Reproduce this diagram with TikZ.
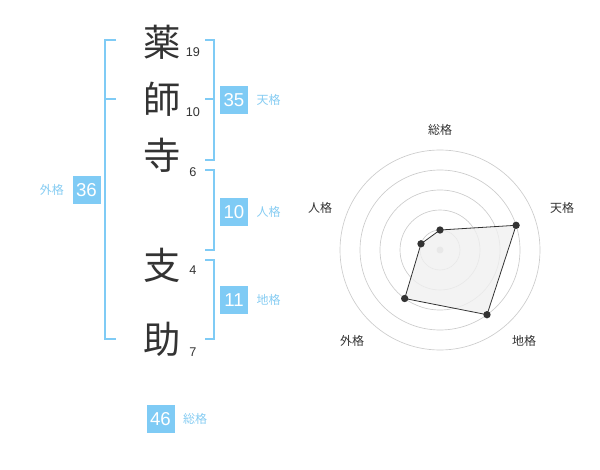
\documentclass[tikz,border=0pt]{standalone}
\usepackage{fontspec}
\usetikzlibrary{positioning}
\setmainfont{Liberation Sans}
\newfontfamily\cjk{Noto Sans CJK JP}
\definecolor{sky}{HTML}{7FCBF5}
\definecolor{skytext}{HTML}{86CCF2}
\definecolor{ink}{HTML}{333333}
\definecolor{ring}{HTML}{CCCCCC}
\definecolor{area}{HTML}{F0F0F0}
\begin{document}
\begin{tikzpicture}[x=0.75pt,y=-0.75pt,
  kanji/.style={font=\cjk\fontsize{28}{28}\selectfont, text=ink, inner sep=0},
  strokenum/.style={font=\fontsize{9.5}{10}\selectfont, text=ink, inner sep=0},
  numbox/.style={fill=sky, text=white, font=\fontsize{14}{14}\selectfont, minimum width=21pt, minimum height=21pt, inner sep=0},
  lbl/.style={font=\cjk\fontsize{9}{9}\selectfont, text=skytext, inner sep=0},
  bracket/.style={draw=sky, line width=1.4pt},
  axislbl/.style={font=\cjk\fontsize{9}{9}\selectfont, text=ink, inner sep=0},
  ringline/.style={draw=ring, line width=0.5pt},
  dot/.style={circle, fill=ink, inner sep=0, minimum size=5.5pt}
]
\useasboundingbox (0,0) rectangle (600,470);

% characters
\node[kanji] (k1) at (162,42) {薬};
\node[kanji] (k2) at (162,99) {師};
\node[kanji] (k3) at (162,155) {寺};
\node[kanji] (k4) at (162,265) {支};
\node[kanji] (k5) at (162,339) {助};
\node[strokenum] (n1) at (193,52) {19};
\node[strokenum] (n2) at (193,112) {10};
\node[strokenum] (n3) at (193,172) {6};
\node[strokenum] (n4) at (193,270) {4};
\node[strokenum] (n5) at (193,352) {7};

% outer bracket
\draw[bracket] (116,40) -- (105,40) -- (105,339) -- (116,339);
\draw[bracket] (105,99) -- (116,99);
% ten bracket
\draw[bracket] (205,40) -- (214,40) -- (214,160) -- (205,160);
\draw[bracket] (205,99) -- (214,99);
% jin bracket
\draw[bracket] (205,170) -- (214,170) -- (214,250) -- (205,250);
% chi bracket
\draw[bracket] (205,260) -- (214,260) -- (214,339) -- (205,339);

% boxes
\node[numbox] (ten) at (234,100) {35};
\node[lbl, right=6pt of ten] (tenl) {天格};
\node[numbox] (jin) at (234,212) {10};
\node[lbl, right=6pt of jin] (jinl) {人格};
\node[numbox] (chi) at (234,300) {11};
\node[lbl, right=6pt of chi] (chil) {地格};
\node[numbox] (gai) at (86.5,190) {36};
\node[lbl, left=6pt of gai] (gail) {外格};
\node[numbox] (sou) at (160.5,419) {46};
\node[lbl, right=6pt of sou] (soul) {総格};

% radar
\coordinate (c) at (440,250);
\foreach \r in {20,40,60,80,100}
  \draw[ringline] (c) circle [radius=\r];
\fill[ring] (c) circle [radius=3.5];
\coordinate (pS) at (440,230);
\coordinate (pT) at (516.1,225.3);
\coordinate (pC) at (487.0,314.7);
\coordinate (pG) at (404.7,298.5);
\coordinate (pJ) at (421.0,243.8);
\filldraw[fill=area, fill opacity=0.8, draw=ink, line width=0.6pt] (pS) -- (pT) -- (pC) -- (pG) -- (pJ) -- cycle;
\foreach \p in {pS,pT,pC,pG,pJ}
  \node[dot] at (\p) {};
\node[axislbl] (aS) at (440,130) {総格};
\node[axislbl] (aT) at (562,208) {天格};
\node[axislbl] (aC) at (524,341) {地格};
\node[axislbl] (aG) at (352,341) {外格};
\node[axislbl] (aJ) at (320,208) {人格};
\end{tikzpicture}
\end{document}
